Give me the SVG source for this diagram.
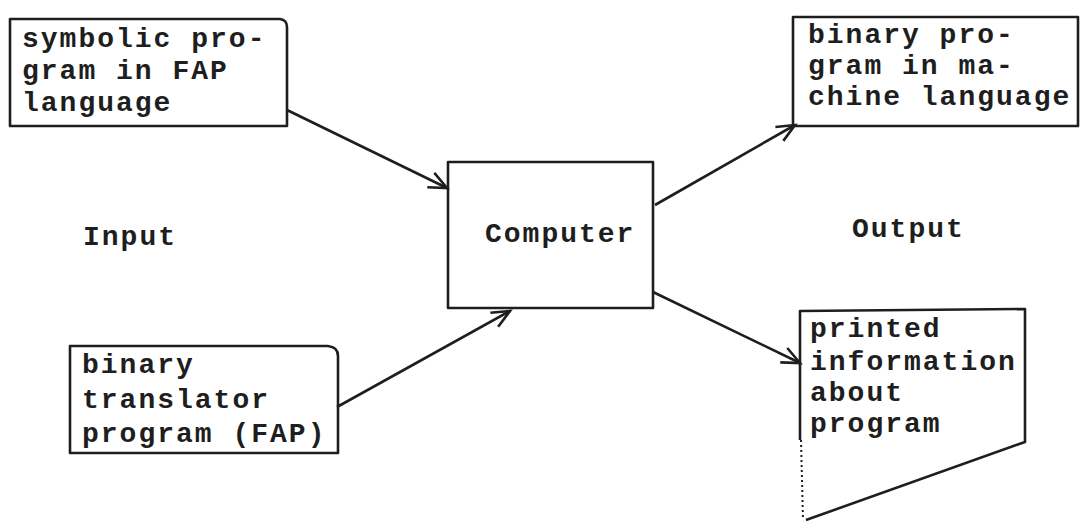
<svg xmlns="http://www.w3.org/2000/svg" width="1083" height="523" viewBox="0 0 1083 523">
  <defs>
    <style>
      .box { fill: none; stroke: #1e1e1e; stroke-width: 2.6; stroke-linejoin: round; }
      .edge { fill: none; stroke: #1e1e1e; stroke-width: 2.6; }
      .t { font-family: "Liberation Mono", "Courier New", monospace; font-size: 28px; font-weight: bold; fill: #1e1e1e; letter-spacing: 2px; }
    </style>
    <marker id="arr" markerUnits="userSpaceOnUse" markerWidth="24" markerHeight="24" refX="20" refY="10" orient="auto">
      <path d="M2,2 L20,10 L2,18" fill="none" stroke="#1e1e1e" stroke-width="2.6"/>
    </marker>
  </defs>
  <rect width="1083" height="523" fill="#ffffff"/>

  <g id="symbolic">
    <path class="box" d="M10,19 L280,19 Q287,20 287,27 L287,126 L10,126 Z"/>
    <text class="t" x="22" y="47">symbolic pro-</text>
    <text class="t" x="22" y="79">gram in FAP</text>
    <text class="t" x="22" y="111">language</text>
  </g>

  <g id="translator">
    <path class="box" d="M70,346 L328,346 Q338,347 338,356 L338,453 L70,453 Z"/>
    <text class="t" x="82" y="373">binary</text>
    <text class="t" x="82" y="408">translator</text>
    <text class="t" x="82" y="442">program (FAP)</text>
  </g>

  <g id="computer">
    <rect class="box" x="448" y="162" width="205" height="146"/>
    <text class="t" x="485" y="242">Computer</text>
  </g>

  <g id="binary-out">
    <rect class="box" x="793" y="17" width="285" height="109"/>
    <text class="t" x="808" y="43">binary pro-</text>
    <text class="t" x="808" y="74">gram in ma-</text>
    <text class="t" x="808" y="105">chine language</text>
  </g>

  <g id="printed">
    <path class="box" d="M800,440 L800,311 L1025,309 L1025,442 L806,520"/>
    <path d="M801,440 L803,520" fill="none" stroke="#1e1e1e" stroke-width="2" stroke-dasharray="2 3"/>
    <text class="t" x="810" y="337">printed</text>
    <text class="t" x="810" y="370">information</text>
    <text class="t" x="810" y="401">about</text>
    <text class="t" x="810" y="432">program</text>
  </g>

  <g id="labels">
    <text class="t" x="83" y="245">Input</text>
    <text class="t" x="852" y="237">Output</text>
  </g>

  <g id="connectors">
    <line class="edge" x1="287" y1="110" x2="447" y2="188" marker-end="url(#arr)"/>
    <line class="edge" x1="337" y1="407" x2="510" y2="311" marker-end="url(#arr)"/>
    <line class="edge" x1="655" y1="205" x2="795" y2="125" marker-end="url(#arr)"/>
    <line class="edge" x1="653" y1="292" x2="800" y2="363" marker-end="url(#arr)"/>
  </g>
</svg>
